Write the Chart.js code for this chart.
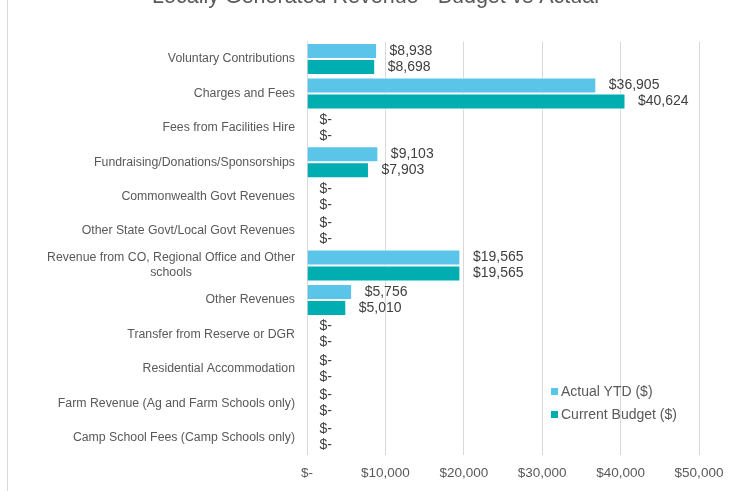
<!DOCTYPE html>
<html>
<head>
<meta charset="utf-8">
<script src="https://cdn.jsdelivr.net/npm/chart.js@4/dist/chart.umd.min.js"></script>
<style>
  html, body { margin: 0; padding: 0; background: #fff; overflow: hidden; width: 738px; height: 491px; }
  #wrap { position: absolute; left: 0; top: -16px; width: 751px; height: 507px; }
  #card { position: absolute; left: 7px; top: 0; width: 1px; height: 491px; background: #d9d9d9; }
  .leg { position: absolute; left: 551px; font: 14px 'Liberation Sans', Arial, sans-serif; color: #595959; white-space: nowrap; }
  .leg i { display: inline-block; width: 7px; height: 7px; margin-right: 3px; vertical-align: 1px; }
</style>
</head>
<body>
<div id="card"></div>
<div id="wrap"><canvas id="c" width="751" height="507"></canvas></div>
<div class="leg" id="leg0" style="top:383px"><i></i><span></span></div>
<div class="leg" id="leg1" style="top:406px"><i></i><span></span></div>
<script>
const chartTitle = 'Locally Generated Revenue - Budget vs Actual';
const categories = [
  'Voluntary Contributions',
  'Charges and Fees',
  'Fees from Facilities Hire',
  'Fundraising/Donations/Sponsorships',
  'Commonwealth Govt Revenues',
  'Other State Govt/Local Govt Revenues',
  ['Revenue from CO, Regional Office and Other', 'schools'],
  'Other Revenues',
  'Transfer from Reserve or DGR',
  'Residential Accommodation',
  'Farm Revenue (Ag and Farm Schools only)',
  'Camp School Fees (Camp Schools only)'
];
const seriesNames = ['Actual YTD ($)', 'Current Budget ($)'];
const actualYTD = [8938, 36905, 0, 9103, 0, 0, 19565, 5756, 0, 0, 0, 0];
const currentBudget = [8698, 40624, 0, 7903, 0, 0, 19565, 5010, 0, 0, 0, 0];
const xTicks = [0, 10000, 20000, 30000, 40000, 50000];
const seriesColors = ['#5BC5E9', '#00ADB0'];

const FONT = "'Liberation Sans', Arial, sans-serif";
function money(v) {
  if (!v) return '$-';
  return '$' + v.toLocaleString('en-US');
}

const labelPlugin = {
  id: 'customLabels',
  afterDatasetsDraw(chart) {
    const ctx = chart.ctx;
    ctx.save();
    ctx.font = '14px ' + FONT;
    ctx.fillStyle = '#404040';
    ctx.textAlign = 'left';
    ctx.textBaseline = 'middle';
    chart.data.datasets.forEach((ds, di) => {
      const meta = chart.getDatasetMeta(di);
      meta.data.forEach((el, i) => {
        ctx.fillText(money(ds.data[i]), el.x + 12.5, el.y);
      });
    });
    // category labels
    const y = chart.scales.y;
    ctx.font = '12.3px ' + FONT;
    ctx.fillStyle = '#595959';
    const right = y.right - 12;
    categories.forEach((lab, i) => {
      const cy = y.getPixelForValue(i);
      if (Array.isArray(lab)) {
        const lh = 15;
        const w0 = ctx.measureText(lab[0]).width;
        const cx = right - w0 / 2;
        const y0 = cy - lh * (lab.length - 1) / 2;
        lab.forEach((line, k) => {
          if (k === 0) { ctx.textAlign = 'right'; ctx.fillText(line, right, y0); }
          else { ctx.textAlign = 'center'; ctx.fillText(line, cx, y0 + k * lh); }
        });
      } else {
        ctx.textAlign = 'right';
        ctx.fillText(lab, right, cy);
      }
    });
    ctx.restore();
  }
};

const chart = new Chart(document.getElementById('c'), {
  type: 'bar',
  data: {
    labels: categories,
    datasets: [
      { label: seriesNames[0], data: actualYTD, backgroundColor: seriesColors[0], borderColor: '#ffffff', borderWidth: 1 },
      { label: seriesNames[1], data: currentBudget, backgroundColor: seriesColors[1], borderColor: '#ffffff', borderWidth: 1 }
    ]
  },
  options: {
    indexAxis: 'y',
    responsive: false,
    animation: false,
    devicePixelRatio: 1,
    categoryPercentage: 0.93,
    barPercentage: 1.0,
    layout: { padding: { left: 52, right: 52, top: 0, bottom: 0 } },
    plugins: {
      legend: { display: false },
      tooltip: { enabled: false },
      title: {
        display: true,
        text: chartTitle,
        color: '#595959',
        font: { family: FONT, size: 21.5, weight: 'normal' },
        padding: { top: 0, bottom: 32 }
      }
    },
    scales: {
      x: {
        min: 0,
        max: 50000,
        afterBuildTicks(scale) { scale.ticks = xTicks.map(v => ({ value: v })); },
        ticks: {
          callback: (v) => money(v),
          color: '#595959',
          font: { family: FONT, size: 13.5 },
          padding: 10,
          maxRotation: 0
        },
        grid: { color: '#d9d9d9', drawTicks: false, lineWidth: 1 },
        border: { display: false }
      },
      y: {
        ticks: { display: false },
        grid: { display: false, drawTicks: false },
        border: { display: true, color: '#d9d9d9', width: 1 },
        afterFit(scale) { scale.width = 255; }
      }
    }
  },
  plugins: [labelPlugin]
});

['leg0', 'leg1'].forEach((id, i) => {
  const el = document.getElementById(id);
  el.querySelector('i').style.background = seriesColors[i];
  el.querySelector('span').textContent = seriesNames[i];
});
</script>
</body>
</html>
